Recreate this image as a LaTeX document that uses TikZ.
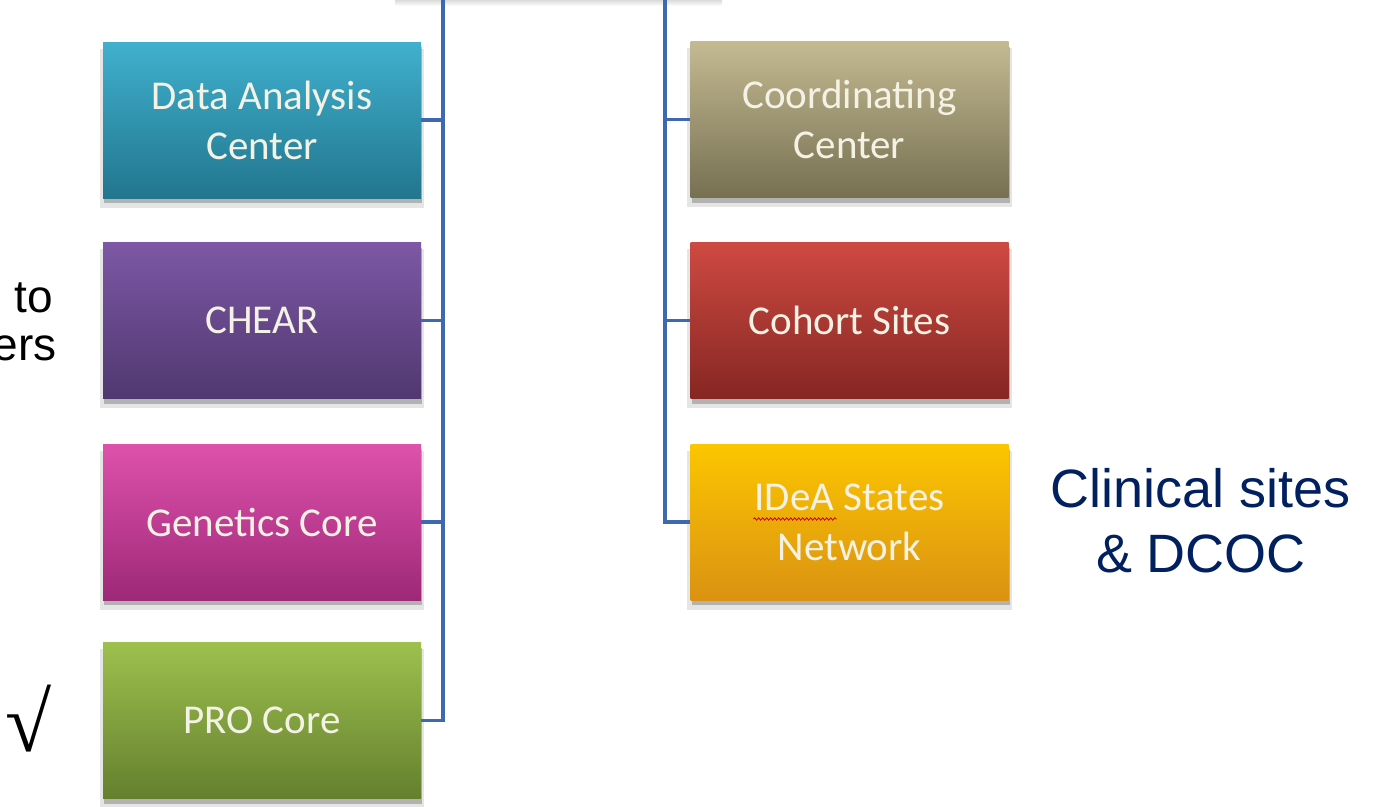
\documentclass[tikz,border=0pt]{standalone}
\usepackage{fontspec}
\setmainfont{Liberation Sans}
\newfontfamily\boxfont{Carlito}
\newfontfamily\seriffont{Liberation Serif}
\usetikzlibrary{shadows,calc,decorations.pathmorphing}
\definecolor{linkblue}{RGB}{62,104,176}
\definecolor{navy}{RGB}{0,32,96}
\definecolor{boxtext}{RGB}{244,242,228}
\definecolor{dacT}{RGB}{64,176,206}\definecolor{dacB}{RGB}{34,118,142}
\definecolor{chT}{RGB}{125,88,165}\definecolor{chB}{RGB}{80,56,112}
\definecolor{geT}{RGB}{222,82,172}\definecolor{geB}{RGB}{158,40,120}
\definecolor{prT}{RGB}{158,192,78}\definecolor{prB}{RGB}{100,128,46}
\definecolor{coT}{RGB}{196,186,146}\definecolor{coB}{RGB}{118,112,82}
\definecolor{csT}{RGB}{206,74,66}\definecolor{csB}{RGB}{134,38,34}
\definecolor{idT}{RGB}{252,198,0}\definecolor{idB}{RGB}{218,146,18}
\begin{document}
\begin{tikzpicture}[x=1pt,y=-1pt,
  unit/.style 2 args={draw=none, minimum width=318pt, minimum height=156pt,
    top color=#1, bottom color=#2, text=boxtext, align=center, inner sep=0pt,
    font=\boxfont\fontsize{41}{50}\selectfont,
    drop shadow={shadow xshift=0pt, shadow yshift=-8pt, opacity=0.10, fill=black, shadow scale=1.02},
    drop shadow={shadow xshift=1pt, shadow yshift=-5pt, opacity=0.22, fill=black}},
  conn/.style={draw=linkblue, line width=3.5pt},
  sidetext/.style={font=\fontsize{46}{48}\selectfont, text=black, inner sep=0pt}]
\fill[white] (0,0) rectangle (1375,806);
\useasboundingbox (0,0) rectangle (1375,806);
% faint shadow of the parent box at the top edge
\shade[top color=black!14, bottom color=white] (395,0) rectangle (722,6);

\node[unit={dacT}{dacB}] (dac) at (262,120) {Data Analysis\\Center};
\node[unit={chT}{chB}] (chear) at (262,320.5) {CHEAR};
\node[unit={geT}{geB}] (gen) at (262,522) {Genetics Core};
\node[unit={prT}{prB}] (pro) at (262,720.5) {PRO Core};

\node[unit={coT}{coB}] (coord) at (849.5,119.5) {Coordinating\\Center};
\node[unit={csT}{csB}] (cohort) at (849.5,320.5) {Cohort Sites};
\node[unit={idT}{idB}] (idea) at (849.5,522) {IDeA States\\Network};

\coordinate (topL) at (443,0);
\coordinate (topR) at (665,0);
\draw[conn] (topL) |- (pro.east);
\draw[conn] (dac.east) -- (dac.east -| topL);
\draw[conn] (chear.east) -- (chear.east -| topL);
\draw[conn] (gen.east) -- (gen.east -| topL);
\draw[conn] (topR) |- (idea.west);
\draw[conn] (coord.west) -- (coord.west -| topR);
\draw[conn] (cohort.west) -- (cohort.west -| topR);

% spell-check squiggle under "IDeA"
\coordinate (sq1) at ($(idea.center)+(-96,-3)$);
\coordinate (sq2) at ($(idea.center)+(-13,-3)$);
\draw[red!80!black, line width=0.8pt, decorate,
  decoration={snake, amplitude=1.2pt, segment length=4pt}] (sq1) -- (sq2);

\node[sidetext, anchor=base east] (to) at (53,312) {to};
\node[sidetext, anchor=base east] (ers) at (57,360) {ers};
\node[inner sep=0pt, font=\seriffont\fontsize{84}{84}\selectfont] (check) at (29,719) {√};

\node[text=navy, align=center, font=\fontsize{54}{65}\selectfont, inner sep=0pt]
  (clin) at (1201,521) {Clinical sites\\\& DCOC};
\end{tikzpicture}
\end{document}
